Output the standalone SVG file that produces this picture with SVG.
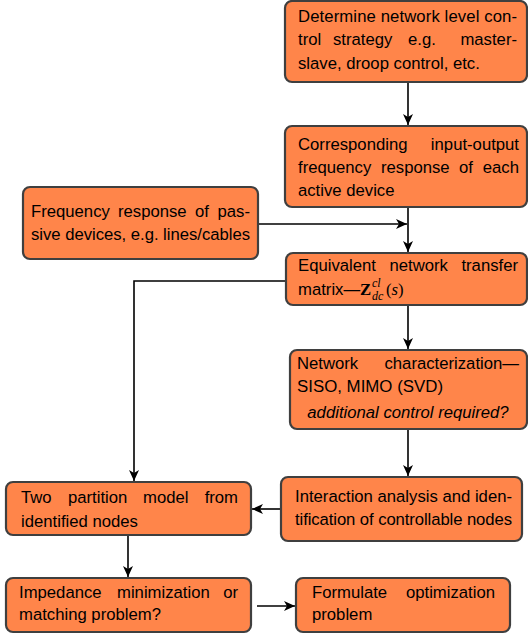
<svg xmlns="http://www.w3.org/2000/svg" width="528" height="639" viewBox="0 0 528 639">
<style>
.box{fill:#ff854a;stroke:#3f3f3f;stroke-width:2.2}
.t{font-family:"Liberation Sans",Arial,sans-serif;font-size:16.7px;fill:#000}
.e{text-anchor:end}
.it{font-style:italic}
.c{fill:none;stroke:#000;stroke-width:1.6}
.mz{font-family:"Liberation Serif","Times New Roman",serif;font-weight:bold;font-size:16.7px}
.ms{font-family:"Liberation Serif","Times New Roman",serif;font-style:italic;font-size:12px}
.mr{font-family:"Liberation Serif","Times New Roman",serif;font-size:16.7px}
</style>
<defs>
<marker id="ah" markerUnits="userSpaceOnUse" markerWidth="12" markerHeight="10" refX="11" refY="5" orient="auto">
<path d="M0,0 L11,5 L0,10 L3,5 z" fill="#000"/>
</marker>
</defs>
<rect width="528" height="639" fill="#fff"/>
<g id="connectors">
<path class="c" d="M408,82 V125" marker-end="url(#ah)"/>
<path class="c" d="M408,207 V252" marker-end="url(#ah)"/>
<path class="c" d="M258,224 H407" marker-end="url(#ah)"/>
<path class="c" d="M408,305 V349" marker-end="url(#ah)"/>
<path class="c" d="M408,429 V476" marker-end="url(#ah)"/>
<path class="c" d="M286,281 H134 V481" marker-end="url(#ah)"/>
<path class="c" d="M281,509 H252" marker-end="url(#ah)"/>
<path class="c" d="M128,535 V577" marker-end="url(#ah)"/>
<path class="c" d="M257,606 H295" marker-end="url(#ah)"/>
</g>
<g id="n1">
<rect class="box" x="285" y="1" width="242" height="81" rx="7"/>
<text class="t" y="22" x="298" textLength="219">Determine network level con-</text>
<text class="t" y="45"><tspan x="298">trol</tspan><tspan x="333">strategy</tspan><tspan x="408">e.g.</tspan></text>
<text class="t e" y="45" x="517">master-</text>
<text class="t" y="69" x="298">slave, droop control, etc.</text>
</g>
<g id="n2">
<rect class="box" x="285" y="126" width="242" height="81" rx="7"/>
<text class="t" y="150" x="298">Corresponding</text>
<text class="t e" y="150" x="519">input-output</text>
<text class="t" y="173"><tspan x="298">frequency</tspan><tspan x="381">response</tspan><tspan x="459">of</tspan></text>
<text class="t e" y="173" x="519">each</text>
<text class="t" y="196" x="298">active device</text>
</g>
<g id="n3">
<rect class="box" x="23" y="187" width="235" height="72" rx="7"/>
<text class="t" y="217"><tspan x="31">Frequency</tspan><tspan x="118">response</tspan><tspan x="195">of</tspan></text>
<text class="t e" y="217" x="250">pas-</text>
<text class="t" y="240" x="31" textLength="219">sive devices, e.g. lines/cables</text>
</g>
<g id="n4">
<rect class="box" x="286" y="253" width="241" height="52" rx="7"/>
<text class="t" y="271"><tspan x="298">Equivalent</tspan><tspan x="389.5">network</tspan></text>
<text class="t e" y="271" x="518">transfer</text>
<text class="t" y="295" x="298">matrix—</text>
<text class="mz" x="360" y="295">Z</text>
<text class="ms" x="372" y="287">cl</text>
<text class="ms" x="372" y="300">dc</text>
<text class="mr" x="386" y="295">(<tspan class="it">s</tspan>)</text>
</g>
<g id="n5">
<rect class="box" x="290" y="350" width="237" height="79" rx="7"/>
<text class="t" y="369" x="297">Network</text>
<text class="t e" y="369" x="519">characterization—</text>
<text class="t" y="392" x="297" textLength="146" lengthAdjust="spacingAndGlyphs">SISO, MIMO (SVD)</text>
<text class="t it" y="418" x="408" text-anchor="middle">additional control required?</text>
</g>
<g id="n6">
<rect class="box" x="281" y="477" width="241" height="64" rx="7"/>
<text class="t" y="502" x="295" textLength="217">Interaction analysis and iden-</text>
<text class="t" y="525" x="295" textLength="217">tification of controllable nodes</text>
</g>
<g id="n7">
<rect class="box" x="6" y="482" width="245" height="53" rx="7"/>
<text class="t" y="503"><tspan x="21">Two</tspan><tspan x="68">partition</tspan><tspan x="143">model</tspan></text>
<text class="t e" y="503" x="238">from</text>
<text class="t" y="527" x="21">identified nodes</text>
</g>
<g id="n8">
<rect class="box" x="6" y="578" width="245" height="54" rx="7"/>
<text class="t" y="598"><tspan x="19">Impedance</tspan><tspan x="117">minimization</tspan></text>
<text class="t e" y="598" x="238">or</text>
<text class="t" y="620" x="19">matching problem?</text>
</g>
<g id="n9">
<rect class="box" x="296" y="578" width="214" height="54" rx="7"/>
<text class="t" y="598" x="312">Formulate</text>
<text class="t e" y="598" x="495">optimization</text>
<text class="t" y="620" x="312">problem</text>
</g>
</svg>
